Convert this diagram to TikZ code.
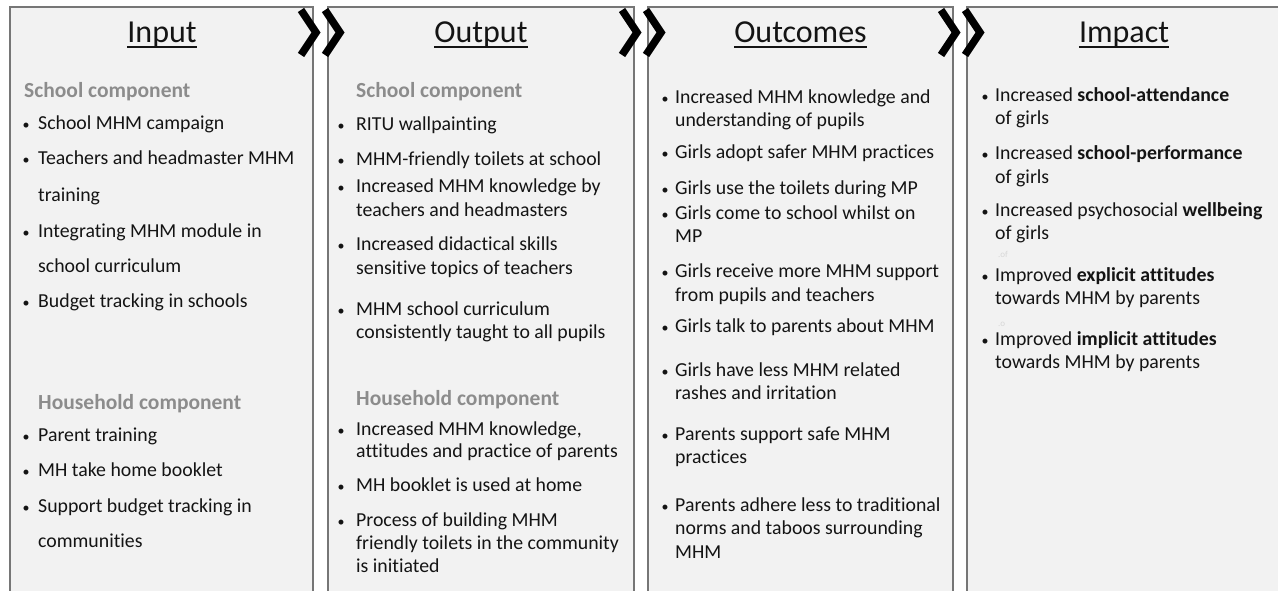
\documentclass[tikz,border=0pt]{standalone}
\usepackage{fontspec}
\setmainfont{Carlito}[Ligatures={NoCommon,NoContextual}]
\definecolor{panelfill}{RGB}{242,242,242}
\definecolor{panelline}{RGB}{118,118,118}
\definecolor{subgray}{RGB}{140,140,140}
\definecolor{ghost}{RGB}{215,215,215}
\definecolor{ink}{RGB}{20,20,20}
% one bulleted line: name, x of text, baseline y, text
\newcommand\bitem[4]{%
  \node[body] (#1) at (#2,#3) {#4};
  \node[bul] (#1-b) at ([xshift=-\bulgap pt]#1.base west) {\textbullet};
}
% a continuation line of a bulleted item
\newcommand\contline[4]{\node[body] (#1) at (#2,#3) {#4};}
\newcommand\bulgap{11}
\begin{document}
\begin{tikzpicture}[x=1pt,y=-1pt,
  panel/.style={fill=panelfill, draw=panelline, line width=1.8pt},
  body/.style={anchor=base west, inner sep=0pt, text=ink, font=\fontsize{19.8}{23}\selectfont},
  bul/.style={anchor=base, inner sep=0pt, text=ink, font=\fontsize{14}{16}\selectfont},
  sub/.style={anchor=base west, inner sep=0pt, text=subgray, font=\bfseries\fontsize{21.5}{25}\selectfont},
  title/.style={anchor=base, inner sep=0pt, text=ink, font=\fontsize{32}{36}\selectfont},
  uline/.style={draw=ink, line width=1.5pt},
  chev/.style={draw=black, line width=7.5pt, line join=miter, line cap=butt},
  ghosttext/.style={anchor=base west, inner sep=0pt, text=ghost, font=\fontsize{9}{10}\selectfont}]
\useasboundingbox (0,0) rectangle (1278,591);
\clip (0,0) rectangle (1278,591);

% the four panels, open at the bottom of the page
\path[panel] (10,610) -- (10,7) -- (313,7) -- (313,610);
\path[panel] (328,610) -- (328,7) -- (634,7) -- (634,610);
\path[panel] (648,610) -- (648,7) -- (953,7) -- (953,610);
\path[panel] (967,610) -- (967,7) -- (1290,7) -- (1290,610);

% titles
\node[title] (t1) at (162,43) {Input};
\node[title] (t2) at (481,43) {Output};
\node[title] (t3) at (800.5,43) {Outcomes};
\node[title] (t4) at (1124,43) {Impact};
\foreach \t in {t1,t2,t3,t4}
  \draw[uline] ([yshift=-4pt]\t.base west) -- ([yshift=-4pt]\t.base east);

% Input
\node[sub] (in-s) at (24,98) {School component};
\renewcommand\bulgap{12}
\bitem{in1}{38}{130}{School MHM campaign}
\bitem{in2}{38}{165}{Teachers and headmaster MHM}
\contline{in2b}{38}{201}{training}
\bitem{in3}{38}{237}{Integrating MHM module in}
\contline{in3b}{38}{272}{school curriculum}
\bitem{in4}{38}{307}{Budget tracking in schools}
\node[sub] (in-h) at (38,409) {Household component};
\bitem{in5}{38}{441}{Parent training}
\bitem{in6}{38}{476}{MH take home booklet}
\bitem{in7}{38}{512}{Support budget tracking in}
\contline{in7b}{38}{547}{communities}

% Output
\renewcommand\bulgap{15}
\node[sub] (out-s) at (356,98) {School component};
\bitem{out1}{356}{131}{RITU wallpainting}
\bitem{out2}{356}{166}{MHM-friendly toilets at school}
\bitem{out3}{356}{193}{Increased MHM knowledge by}
\contline{out3b}{356}{216}{teachers and headmasters}
\bitem{out4}{356}{251}{Increased didactical skills}
\contline{out4b}{356}{274}{sensitive topics of teachers}
\bitem{out5}{356}{315}{MHM school curriculum}
\contline{out5b}{356}{338}{consistently taught to all pupils}
\node[sub] (out-h) at (356,405) {Household component};
\bitem{out6}{356}{435}{Increased MHM knowledge,}
\contline{out6b}{356}{457}{attitudes and practice of parents}
\bitem{out7}{356}{491}{MH booklet is used at home}
\bitem{out8}{356}{526}{Process of building MHM}
\contline{out8b}{356}{549}{friendly toilets in the community}
\contline{out8c}{356}{572}{is initiated}

% Outcomes
\renewcommand\bulgap{10}
\bitem{oc1}{675}{104}{Increased MHM knowledge and}
\contline{oc1b}{675}{127}{understanding of pupils}
\bitem{oc2}{675}{159}{Girls adopt safer MHM practices}
\bitem{oc3}{675}{194}{Girls use the toilets during MP}
\bitem{oc4}{675}{219}{Girls come to school whilst on}
\contline{oc4b}{675}{242}{MP}
\bitem{oc5}{675}{277}{Girls receive more MHM support}
\contline{oc5b}{675}{301}{from pupils and teachers}
\bitem{oc6}{675}{332}{Girls talk to parents about MHM}
\bitem{oc7}{675}{376}{Girls have less MHM related}
\contline{oc7b}{675}{399}{rashes and irritation}
\bitem{oc8}{675}{440}{Parents support safe MHM}
\contline{oc8b}{675}{463}{practices}
\bitem{oc9}{675}{511}{Parents adhere less to traditional}
\contline{oc9b}{675}{534}{norms and taboos surrounding}
\contline{oc9c}{675}{558}{MHM}

% Impact
\bitem{im1}{995}{102}{Increased \textbf{school-attendance}}
\contline{im1b}{995}{125}{of girls}
\bitem{im2}{995}{160}{Increased \textbf{school-performance}}
\contline{im2b}{995}{183}{of girls}
\bitem{im3}{995}{217}{Increased psychosocial \textbf{wellbeing}}
\contline{im3b}{995}{240}{of girls}
\node[ghosttext] (g1) at (998,258) {.of};
\bitem{im4}{995}{281}{Improved \textbf{explicit attitudes}}
\contline{im4b}{995}{304}{towards MHM by parents}
\node[ghosttext] (g2) at (998,326) {.o};
\bitem{im5}{995}{345}{Improved \textbf{implicit attitudes}}
\contline{im5b}{995}{368}{towards MHM by parents}

% double chevrons between the panels
\foreach \gx in {313,634,953} {
  \begin{scope}[xshift=\gx pt]
    \draw[chev] (-12,10) -- (3,32.5) -- (-12,55);
    \draw[chev] (12,10) -- (27,32.5) -- (12,55);
  \end{scope}
}
\end{tikzpicture}
\end{document}
